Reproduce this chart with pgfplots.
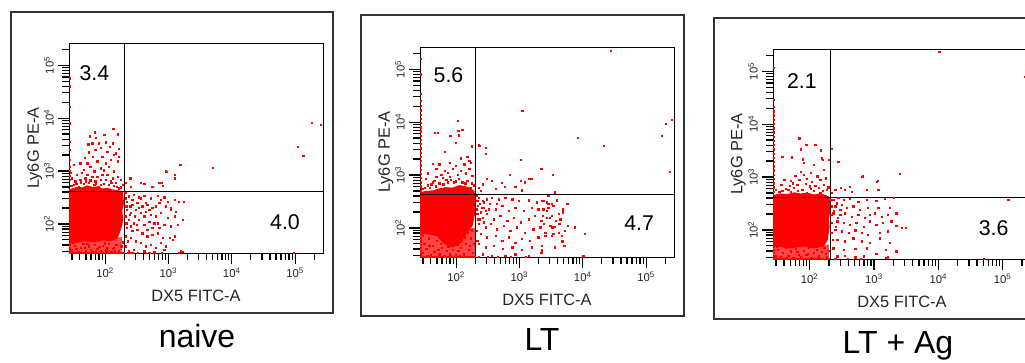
\documentclass[border=0pt]{standalone}
\usepackage{pgfplots}
\pgfplotsset{compat=1.18}
\usepackage{fontspec}
\setmainfont{Liberation Sans}
\pgfplotsset{
  facs/.style={
    scale only axis, width=190.5pt, height=157.5pt,
    xmin=1.43, xmax=5.44, ymin=1.45, ymax=5.42, clip=false,
    axis line style={line width=0.75pt},
    tick align=outside, tick pos=left,
    xtick={2,3,4,5}, ytick={2,3,4,5},
    xticklabels={10\textsuperscript{2},10\textsuperscript{3},10\textsuperscript{4},10\textsuperscript{5}},
    yticklabels={10\textsuperscript{2},10\textsuperscript{3},10\textsuperscript{4},10\textsuperscript{5}},
    minor xtick={1.477,1.602,1.699,1.778,1.845,1.903,1.954,2.301,2.477,2.602,2.699,2.778,2.845,2.903,2.954,3.301,3.477,3.602,3.699,3.778,3.845,3.903,3.954,4.301,4.477,4.602,4.699,4.778,4.845,4.903,4.954,5.301},
    minor ytick={1.477,1.602,1.699,1.778,1.845,1.903,1.954,2.301,2.477,2.602,2.699,2.778,2.845,2.903,2.954,3.301,3.477,3.602,3.699,3.778,3.845,3.903,3.954,4.301,4.477,4.602,4.699,4.778,4.845,4.903,4.954,5.301},
    major tick length=8pt, minor tick length=5pt,
    every tick/.style={draw=black, line width=0.9pt},
    tick label style={font=\fontsize{8.5}{10}\selectfont, text=black!85},
    yticklabel style={rotate=90, anchor=south},
    xlabel={DX5 FITC-A}, ylabel={Ly6G PE-A},
    label style={font=\fontsize{12.3}{14}\selectfont, text=black!85},
    xlabel style={at={(axis description cs:0.5,-0.205)}, anchor=center},
    ylabel style={at={(axis description cs:-0.134,0.5)}, anchor=center},
  },
  dots/.style={only marks, mark=square*, mark size=0.5pt, color=red, mark options={line width=0pt}},
  blob/.style={fill=red, draw=none},
  band/.style={fill=red!72, draw=none},
}
\tikzset{
  gate/.style={line width=0.75pt, black},
  tickln/.style={line width=0.9pt, black},
  qnum/.style={font=\fontsize{16}{19}\selectfont},
}
\newcommand{\facsticks}{%
  \pgfplotsinvokeforeach{2,3,4,5}{%
    \draw[tickln] (axis cs:##1,1.45) -- ++(0pt,-8pt);
    \draw[tickln] (axis cs:1.43,##1) -- ++(-8pt,0pt);}%
  \pgfplotsinvokeforeach{1.477,1.602,1.699,1.778,1.845,1.903,1.954,2.301,2.477,2.602,2.699,2.778,2.845,2.903,2.954,3.301,3.477,3.602,3.699,3.778,3.845,3.903,3.954,4.301,4.477,4.602,4.699,4.778,4.845,4.903,4.954,5.301}{%
    \draw[tickln] (axis cs:##1,1.45) -- ++(0pt,-5pt);
    \draw[tickln] (axis cs:1.43,##1) -- ++(-5pt,0pt);}%
}
\begin{document}
\begin{tikzpicture}
\useasboundingbox (0pt,0pt) rectangle (768.75pt,271.5pt);
% ---------- panel 1: naive ----------
\draw[line width=1pt, black!80] (8.25pt,36.75pt) rectangle (249.75pt,262.5pt);
\begin{axis}[facs, at={(51.75pt,81.75pt)}, anchor=south west]
\addplot[band] coordinates {(1.43,1.45) (2.27,1.45) (2.27,1.75) (1.43,1.66)} -- cycle;
\addplot[blob] coordinates {(1.43,2.65) (1.50,2.68) (1.56,2.70) (1.64,2.69) (1.72,2.73) (1.80,2.70) (1.88,2.71) (1.96,2.67) (2.04,2.68) (2.12,2.65) (2.20,2.64) (2.28,2.60) (2.30,2.39) (2.27,2.25) (2.29,2.08) (2.25,1.89) (2.20,1.73) (2.09,1.67) (1.96,1.69) (1.83,1.65) (1.67,1.67) (1.53,1.64) (1.43,1.64)} -- cycle;
\addplot[dots] coordinates {
(1.84,3.73)(2.13,3.79)(2.20,3.69)(1.99,3.68)(1.76,3.65)(1.86,3.62)(2.01,3.54)(1.80,3.52)(1.74,3.50)(1.90,3.52)(2.12,3.52)(1.93,3.43)(2.08,3.46)(2.22,3.41)(1.85,3.40)(1.75,3.35)(2.04,3.36)(2.17,3.33)(1.68,3.24)(1.81,3.27)(1.96,3.27)(2.14,3.30)(2.22,3.27)(2.09,3.21)(1.61,3.14)(1.72,3.14)(1.88,3.18)(2.01,3.14)(2.20,3.18)(1.51,3.11)(1.77,3.07)(1.93,3.05)(2.06,3.08)(1.67,3.02)(1.83,2.99)(1.98,3.01)(2.14,2.99)(1.56,2.92)(1.72,2.92)(1.88,2.89)(2.04,2.92)(2.20,2.89)(1.48,2.86)(1.61,2.83)(1.77,2.82)(1.93,2.83)(2.09,2.80)(2.25,2.83)(1.51,2.74)(1.67,2.75)(1.83,2.74)(1.98,2.75)(2.14,2.72)(2.28,2.74)(1.59,2.69)(1.90,2.69)(2.22,2.67)(1.53,2.80)(1.69,2.86)(1.85,2.80)(2.01,2.83)(2.17,2.77)(1.46,2.96)(1.96,2.92)(2.12,2.86)(1.80,2.89)(1.64,2.96)(1.55,2.76)(1.62,2.78)(1.75,2.77)(1.86,2.76)(1.94,2.73)(2.06,2.74)(2.19,2.70)(2.25,2.69)(1.47,2.72)(1.70,2.80)(2.10,2.77)
(1.445,4.75)(1.445,4.60)(1.445,4.21)(1.445,3.90)(1.445,3.55)(1.445,3.40)(1.445,3.21)(1.445,3.08)(1.445,3.00)(1.445,2.90)(1.445,2.83)
(5.27,3.91)(5.41,3.87)(5.05,3.45)(5.13,3.28)(3.70,3.06)(3.19,3.11)(2.97,2.98)(3.10,2.92)(2.89,2.77)(2.62,2.75)(2.41,2.87)(2.33,2.77)(2.40,2.86)(2.57,2.77)(2.86,2.77)(2.96,3.00)(2.91,2.72)(2.75,2.70)(2.41,2.70)(3.10,2.86)
(2.38,2.52)(2.46,2.55)(2.54,2.50)(2.62,2.53)(2.72,2.48)(2.83,2.53)(2.94,2.50)(3.10,2.45)(2.35,2.42)(2.43,2.36)(2.51,2.39)(2.59,2.33)(2.67,2.36)(2.75,2.30)(2.86,2.39)(2.96,2.33)(3.04,2.26)(3.17,2.42)(2.35,2.26)(2.41,2.20)(2.49,2.26)(2.57,2.20)(2.65,2.23)(2.72,2.17)(2.80,2.14)(2.88,2.20)(2.99,2.11)(3.10,2.14)(3.23,2.08)(2.38,2.08)(2.46,2.01)(2.54,2.08)(2.62,1.98)(2.70,2.04)(2.78,2.01)(2.86,1.92)(2.94,1.98)(3.04,1.95)(3.15,1.98)(2.35,1.92)(2.43,1.86)(2.51,1.89)(2.59,1.82)(2.67,1.76)(2.75,1.79)(2.83,1.82)(2.91,1.73)(3.02,1.73)(3.10,1.76)(2.41,1.73)(2.49,1.67)(2.57,1.64)(2.65,1.57)(2.72,1.60)(2.80,1.54)(2.88,1.64)(2.96,1.57)(3.07,1.70)(2.33,1.57)(2.38,1.48)(2.46,1.51)(2.62,1.48)(2.78,1.46)(2.94,1.51)(3.20,1.48)(3.04,2.30)(3.12,2.23)(3.25,2.42)
(2.32,2.58)(2.33,2.48)(2.34,2.33)(2.32,2.14)(2.34,2.01)(2.33,1.76)(2.36,1.67)(2.40,2.33)(2.39,2.17)(2.43,2.45)(2.47,2.14)(2.50,1.98)(2.54,2.30)(2.41,1.95)(2.57,2.48)(2.65,2.39)(2.70,2.26)(2.80,2.33)(2.88,2.45)(2.99,2.42)(2.62,2.14)(2.75,1.92)(2.83,2.01)(2.67,1.89)
(4.98,1.455)(3.17,1.455)(3.22,1.47)(2.36,1.455)(2.40,1.455)(2.44,1.455)(2.52,1.455)(2.70,1.455)(2.90,1.455)
(1.47,1.50)(1.52,1.58)(1.57,1.47)(1.62,1.55)(1.66,1.62)(1.70,1.49)(1.75,1.57)(1.80,1.46)(1.84,1.60)(1.88,1.52)(1.93,1.48)(1.97,1.58)(2.02,1.50)(2.06,1.62)(2.10,1.46)(2.14,1.55)(2.18,1.60)(2.22,1.49)(2.26,1.57)(1.50,1.64)(1.60,1.46)(1.72,1.62)(1.86,1.47)(2.00,1.63)(2.12,1.52)(2.28,1.65)(1.55,1.52)(1.68,1.55)(1.78,1.51)(1.91,1.56)(2.04,1.55)(2.16,1.48)
(1.45,1.455)(1.49,1.455)(1.53,1.455)(1.57,1.455)(1.61,1.455)(1.65,1.455)(1.69,1.455)(1.73,1.455)(1.77,1.455)(1.81,1.455)(1.85,1.455)(1.89,1.455)(1.93,1.455)(1.97,1.455)(2.01,1.455)(2.05,1.455)(2.09,1.455)(2.13,1.455)(2.17,1.455)(2.21,1.455)(2.25,1.455)(2.29,1.455)
(1.445,1.50)(1.445,1.55)(1.445,1.60)(1.445,1.65)(1.445,1.70)(1.445,1.75)
};
\draw[gate] (axis cs:2.31,1.45) -- (axis cs:2.31,5.42);
\draw[gate] (axis cs:1.43,2.62) -- (axis cs:5.44,2.62);
\facsticks
\node[qnum] at (axis cs:1.83,4.85) {3.4};
\node[qnum] at (axis cs:4.84,2.04) {4.0};
\end{axis}
\node[font=\fontsize{24}{28}\selectfont, anchor=base] at (147.75pt,11.25pt) {naive};
% ---------- panel 2: LT ----------
\draw[line width=1pt, black!80] (270.75pt,34.5pt) rectangle (513pt,260.25pt);
\begin{axis}[facs, at={(315pt,78.75pt)}, anchor=south west]
\addplot[band] coordinates {(1.43,1.45) (2.30,1.45) (2.30,2.0) (1.43,1.90)} -- cycle;
\addplot[blob] coordinates {(1.43,2.67) (1.52,2.70) (1.64,2.71) (1.74,2.75) (1.84,2.77) (1.94,2.76) (2.05,2.81) (2.13,2.79) (2.21,2.77) (2.29,2.70) (2.31,2.51) (2.30,2.26) (2.26,2.04) (2.16,1.88) (2.08,1.72) (1.95,1.63) (1.82,1.69) (1.69,1.85) (1.53,1.88) (1.43,1.88)} -- cycle;
\addplot[dots] coordinates {
(2.03,4.02)(2.04,3.83)(2.05,3.75)(2.00,3.61)(1.91,3.74)(1.67,3.79)(1.71,3.79)(2.10,3.85)(2.25,3.54)(1.82,3.44)(2.08,3.31)(2.18,3.34)(2.21,3.26)(1.64,3.21)(1.74,3.20)(1.90,3.23)(2.00,3.17)(2.13,3.20)(2.23,3.23)(1.69,3.11)(1.82,3.08)(1.95,3.11)(2.08,3.08)(2.21,3.11)(1.56,3.03)(1.77,3.00)(1.87,3.04)(2.03,3.00)(2.16,3.03)(2.26,2.98)(1.52,2.92)(1.66,2.89)(1.79,2.94)(1.92,2.90)(2.05,2.92)(2.18,2.89)(1.61,2.82)(1.74,2.84)(1.97,2.86)(2.10,2.86)(2.25,2.84)(1.51,2.75)(1.59,2.76)(2.23,2.75)(1.90,2.96)(1.69,2.96)(1.56,2.80)(1.68,2.78)(1.80,2.82)(1.87,2.86)(2.00,2.88)(2.15,2.84)(2.28,2.80)(1.47,2.74)(1.63,2.86)(1.85,2.91)
(1.445,5.19)(1.445,4.90)(1.445,4.53)(1.445,4.40)(1.445,4.30)(1.445,4.22)(1.445,4.14)(1.445,4.06)(1.445,3.98)(1.445,3.90)(1.445,3.82)(1.445,3.74)(1.445,3.66)(1.445,3.58)(1.445,3.50)(1.445,3.42)(1.445,3.34)(1.445,3.26)(1.445,3.18)(1.445,3.10)(1.445,3.02)(1.445,2.94)(1.445,2.86)(1.445,2.78)(1.445,2.70)
(4.45,5.34)(3.05,4.21)(3.92,3.70)(4.33,3.55)(5.25,3.74)(5.31,3.96)(5.41,4.04)(5.38,3.06)(3.02,3.28)(3.36,3.11)(3.53,3.00)(2.38,3.55)(2.47,3.51)(2.36,3.56)(2.47,3.40)(2.85,3.00)(2.49,2.92)(2.57,2.89)(2.72,2.85)(2.77,2.77)(2.94,2.77)(3.02,2.89)(3.09,2.86)(3.16,2.92)(3.20,2.92)(3.34,3.11)(2.36,2.76)(2.42,2.82)(2.63,2.73)(3.04,2.71)(2.39,2.70)(3.56,2.67)
(3.46,2.60)(3.36,2.51)(3.43,2.48)(3.51,2.45)(3.59,2.52)(3.38,2.35)(3.46,2.38)(3.54,2.42)(3.62,2.26)(3.69,2.35)(3.76,2.45)(3.37,2.23)(3.43,2.19)(3.51,2.23)(3.58,2.13)(3.65,2.16)(3.69,2.29)(3.39,2.07)(3.49,2.04)(3.56,2.02)(3.63,2.07)(3.72,1.94)(3.77,2.04)(3.88,2.01)(3.41,1.85)(3.54,1.88)(3.62,1.91)(3.67,1.85)(4.03,1.88)(3.36,1.66)(3.56,1.63)(3.68,1.74)(3.71,1.66)(3.36,1.57)(4.01,1.46)
(2.36,2.57)(2.42,2.51)(2.49,2.54)(2.57,2.57)(2.68,2.54)(2.78,2.57)(2.89,2.54)(2.99,2.51)(3.15,2.52)(3.28,2.48)(3.38,2.51)(3.46,2.45)(2.35,2.42)(2.44,2.38)(2.53,2.45)(2.63,2.35)(2.73,2.42)(2.83,2.32)(2.94,2.38)(3.07,2.32)(3.20,2.38)(3.30,2.35)(3.43,2.32)(2.34,2.26)(2.42,2.19)(2.49,2.26)(2.60,2.16)(2.70,2.23)(2.81,2.13)(2.91,2.19)(3.02,2.10)(3.15,2.16)(3.25,2.23)(3.35,2.13)(3.48,2.19)(2.36,2.07)(2.47,2.01)(2.55,2.07)(2.65,1.97)(2.76,2.04)(2.86,1.94)(2.96,2.01)(3.09,1.91)(3.22,1.97)(3.33,2.01)(3.41,1.91)(3.52,2.01)(2.39,1.88)(2.49,1.82)(2.63,1.85)(2.73,1.75)(2.83,1.82)(2.94,1.72)(3.04,1.79)(3.17,1.75)(3.30,1.82)(3.51,1.85)(2.36,1.69)(2.47,1.63)(2.60,1.66)(2.74,1.60)(2.89,1.63)(3.04,1.58)(3.20,1.63)(2.42,1.50)(2.57,1.47)(2.78,1.47)(2.94,1.50)(3.15,1.47)(3.35,1.53)
(2.33,2.60)(2.34,2.51)(2.33,2.35)(2.35,2.16)(2.33,1.94)(2.34,1.75)(2.38,2.45)(2.39,2.29)(2.41,2.38)(2.44,2.48)(2.47,2.32)(2.52,2.35)(2.38,2.16)(2.44,2.10)(2.65,2.45)
(1.47,1.52)(1.50,1.70)(1.53,1.60)(1.57,1.80)(1.60,1.48)(1.63,1.66)(1.66,1.55)(1.70,1.75)(1.74,1.50)(1.78,1.62)(1.82,1.47)(1.86,1.56)(1.90,1.50)(1.95,1.58)(2.00,1.48)(2.04,1.56)(2.08,1.62)(2.12,1.50)(2.16,1.70)(2.20,1.58)(2.24,1.80)(2.27,1.52)(2.22,1.66)(2.18,1.90)(2.25,1.95)(1.48,1.85)(1.55,1.47)(1.68,1.86)(1.72,1.58)(1.92,1.46)(2.06,1.46)(2.14,1.82)(1.76,1.70)(1.58,1.66)(2.28,1.70)(2.02,1.68)(1.88,1.65)
(1.45,1.455)(1.49,1.455)(1.53,1.455)(1.57,1.455)(1.61,1.455)(1.65,1.455)(1.69,1.455)(1.73,1.455)(1.77,1.455)(1.81,1.455)(1.85,1.455)(1.89,1.455)(1.93,1.455)(1.97,1.455)(2.01,1.455)(2.05,1.455)(2.09,1.455)(2.13,1.455)(2.17,1.455)(2.21,1.455)(2.25,1.455)(2.29,1.455)(2.36,1.455)(2.50,1.455)(2.66,1.455)(2.87,1.455)(3.10,1.455)
(1.445,1.50)(1.445,1.56)(1.445,1.62)(1.445,1.68)(1.445,1.74)(1.445,1.80)(1.445,1.86)
};
\draw[gate] (axis cs:2.31,1.45) -- (axis cs:2.31,5.42);
\draw[gate] (axis cs:1.43,2.64) -- (axis cs:5.44,2.64);
\facsticks
\node[qnum] at (axis cs:1.88,4.89) {5.6};
\node[qnum] at (axis cs:4.89,2.09) {4.7};
\end{axis}
\node[font=\fontsize{24}{28}\selectfont, anchor=base] at (406.5pt,9pt) {LT};
% ---------- panel 3: LT + Ag ----------
\draw[line width=1pt, black!80] (535.5pt,32.25pt) rectangle (777pt,258pt);
\begin{axis}[facs, width=193.5pt, at={(579.75pt,77.25pt)}, anchor=south west]
\addplot[band] coordinates {(1.43,1.45) (2.30,1.45) (2.30,1.72) (1.43,1.70)} -- cycle;
\addplot[blob] coordinates {(1.43,2.66) (1.54,2.69) (1.66,2.68) (1.76,2.71) (1.86,2.69) (1.97,2.70) (2.07,2.67) (2.16,2.69) (2.25,2.66) (2.31,2.62) (2.32,2.38) (2.30,2.20) (2.31,2.06) (2.28,1.81) (2.22,1.69) (2.07,1.65) (1.91,1.69) (1.71,1.65) (1.43,1.69)} -- cycle;
\addplot[dots] coordinates {
(1.84,3.73)(1.95,3.60)(1.86,3.52)(2.09,3.60)(2.18,3.50)(1.58,3.38)(1.73,3.37)(1.90,3.33)(1.91,3.26)(2.19,3.35)(2.21,3.32)(2.07,3.23)(2.30,3.32)(2.22,3.13)(1.86,3.10)(1.91,3.04)(2.02,3.08)(1.78,3.02)(2.12,3.01)(1.71,2.93)(1.61,2.94)(1.84,2.94)(1.96,2.96)(2.04,2.91)(2.17,2.94)(2.25,2.97)(1.56,2.85)(1.69,2.83)(1.81,2.85)(1.94,2.87)(2.09,2.83)(2.22,2.85)(1.63,2.77)(1.76,2.79)(1.89,2.75)(2.02,2.77)(2.14,2.79)(2.27,2.75)(1.53,2.72)(1.71,2.72)(1.96,2.70)(2.17,2.70)(1.48,2.76)(1.58,2.74)(1.67,2.76)(1.82,2.74)(2.07,2.74)(2.21,2.73)(2.29,2.80)(1.74,2.88)(2.00,2.82)
(1.445,5.06)(1.445,4.45)(1.445,4.32)(1.445,4.24)(1.445,4.16)(1.445,4.08)(1.445,4.00)(1.445,3.92)(1.445,3.84)(1.445,3.76)(1.445,3.68)(1.445,3.60)(1.445,3.52)(1.445,3.44)(1.445,3.36)(1.445,3.28)(1.445,3.20)(1.445,3.12)(1.445,3.04)(1.445,2.96)(1.445,2.88)(1.445,2.80)(1.445,2.72)
(4.02,5.36)(5.35,4.89)(3.40,3.06)(2.82,3.00)(3.05,2.91)(2.35,3.53)(2.45,3.29)(2.83,3.01)(3.06,2.92)(3.07,2.75)(2.89,2.75)(2.63,2.81)(2.40,2.75)(2.49,2.79)(2.55,2.75)(2.66,2.72)(2.35,2.70)
(2.37,2.57)(2.45,2.60)(2.53,2.57)(2.63,2.58)(2.76,2.53)(2.89,2.57)(3.04,2.55)(3.17,2.58)(3.31,2.60)(2.40,2.44)(2.50,2.47)(2.58,2.41)(2.68,2.44)(2.78,2.38)(2.91,2.41)(3.07,2.41)(3.25,2.41)(2.37,2.31)(2.48,2.28)(2.55,2.31)(2.66,2.25)(2.76,2.28)(2.86,2.22)(2.94,2.28)(3.02,2.31)(3.12,2.25)(3.22,2.28)(3.35,2.31)(2.43,2.16)(2.53,2.13)(2.63,2.09)(2.73,2.13)(2.84,2.06)(2.94,2.16)(3.04,2.09)(3.14,2.13)(3.27,2.16)(3.43,2.03)(3.50,2.03)(2.40,2.00)(2.50,1.97)(2.61,1.94)(2.71,1.99)(2.81,1.94)(2.91,1.91)(3.09,1.94)(3.22,1.97)(3.35,2.08)(2.43,1.81)(2.55,1.78)(2.68,1.84)(2.81,1.78)(2.94,1.75)(3.09,1.84)(3.25,1.75)(2.37,1.65)(2.53,1.62)(2.71,1.64)(2.89,1.65)(3.19,1.62)(3.35,1.59)(2.43,1.50)(2.55,1.51)(2.71,1.48)(2.84,1.50)(3.04,1.55)(3.19,1.47)(3.22,1.48)
(2.34,2.57)(2.35,2.44)(2.34,2.28)(2.35,2.13)(2.34,1.94)(2.36,1.81)(2.38,2.35)(2.42,2.50)(2.44,2.22)(2.41,2.06)(2.48,2.38)
(5.09,2.57)(4.71,1.455)
(1.47,1.50)(1.51,1.62)(1.55,1.48)(1.59,1.56)(1.63,1.66)(1.67,1.51)(1.71,1.59)(1.75,1.47)(1.79,1.64)(1.83,1.53)(1.87,1.48)(1.91,1.60)(1.95,1.52)(1.99,1.67)(2.03,1.47)(2.07,1.56)(2.11,1.62)(2.15,1.50)(2.19,1.58)(2.23,1.66)(2.27,1.49)(2.30,1.60)(1.49,1.68)(1.65,1.46)(1.81,1.58)(1.97,1.55)(2.13,1.46)(2.25,1.55)
(1.45,1.455)(1.49,1.455)(1.53,1.455)(1.57,1.455)(1.61,1.455)(1.65,1.455)(1.69,1.455)(1.73,1.455)(1.77,1.455)(1.81,1.455)(1.85,1.455)(1.89,1.455)(1.93,1.455)(1.97,1.455)(2.01,1.455)(2.05,1.455)(2.09,1.455)(2.13,1.455)(2.17,1.455)(2.21,1.455)(2.25,1.455)(2.29,1.455)(2.40,1.455)(2.60,1.455)(2.80,1.455)
(1.445,1.50)(1.445,1.56)(1.445,1.62)(1.445,1.68)
};
\draw[gate] (axis cs:2.32,1.45) -- (axis cs:2.32,5.42);
\draw[gate] (axis cs:1.43,2.62) -- (axis cs:5.44,2.62);
\facsticks
\node[qnum] at (axis cs:1.88,4.81) {2.1};
\node[qnum] at (axis cs:4.86,2.04) {3.6};
\end{axis}
\node[font=\fontsize{24}{28}\selectfont, anchor=base] at (673.5pt,6.75pt) {LT + Ag};
\end{tikzpicture}
\end{document}
